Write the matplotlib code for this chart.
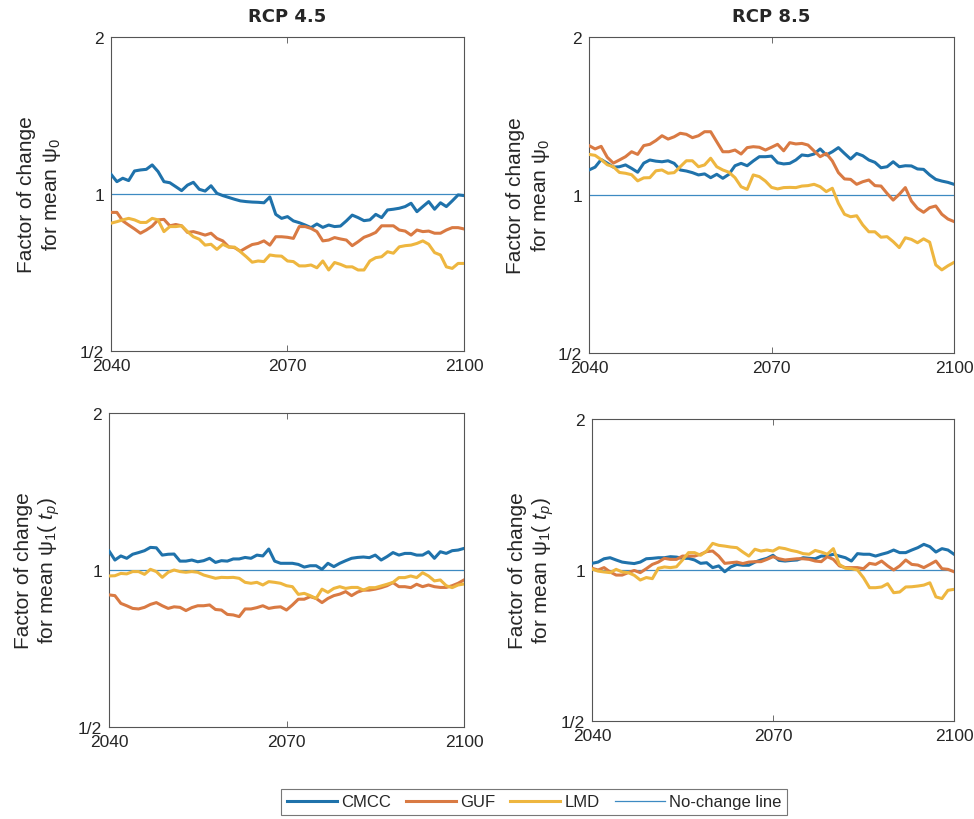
import matplotlib
matplotlib.use("Agg")
import matplotlib.pyplot as plt
from matplotlib.ticker import FixedLocator, FixedFormatter, NullLocator

plt.rcParams["font.family"] = ["Liberation Sans", "DejaVu Sans"]
plt.rcParams["mathtext.fontset"] = "custom"
plt.rcParams["mathtext.rm"] = "Liberation Sans"
plt.rcParams["mathtext.it"] = "Liberation Sans:italic"

years = list(range(2040, 2101))
models = ["CMCC", "GUF", "LMD"]
scenarios = ["RCP 4.5", "RCP 8.5"]
x_ticks = [2040, 2070, 2100]
y_ticks = [0.5, 1, 2]
y_tick_labels = ["1/2", "1", "2"]

# factor of change for mean psi_0
cmcc_45_psi0 = [1.091, 1.056, 1.072, 1.061, 1.107, 1.112, 1.115, 1.137, 1.104, 1.056,
                1.051, 1.033, 1.015, 1.040, 1.053, 1.021, 1.013, 1.037, 1.003, 0.993,
                0.985, 0.977, 0.970, 0.967, 0.965, 0.964, 0.962, 0.987, 0.914, 0.898,
                0.905, 0.888, 0.881, 0.872, 0.862, 0.876, 0.863, 0.872, 0.866, 0.868,
                0.888, 0.911, 0.901, 0.889, 0.892, 0.914, 0.901, 0.932, 0.935, 0.939,
                0.946, 0.960, 0.925, 0.946, 0.967, 0.935, 0.962, 0.946, 0.970, 0.996,
                0.993]
guf_45_psi0 = [0.922, 0.922, 0.888, 0.872, 0.857, 0.841, 0.853, 0.868, 0.892, 0.894,
               0.869, 0.874, 0.869, 0.844, 0.847, 0.841, 0.834, 0.841, 0.822, 0.813,
               0.792, 0.789, 0.777, 0.789, 0.800, 0.804, 0.813, 0.798, 0.828, 0.828,
               0.826, 0.822, 0.866, 0.866, 0.859, 0.847, 0.813, 0.816, 0.825, 0.820,
               0.816, 0.796, 0.810, 0.826, 0.834, 0.844, 0.869, 0.869, 0.869, 0.853,
               0.849, 0.834, 0.853, 0.847, 0.849, 0.841, 0.841, 0.853, 0.862, 0.862,
               0.857]
lmd_45_psi0 = [0.879, 0.885, 0.892, 0.898, 0.892, 0.882, 0.882, 0.898, 0.892, 0.847,
               0.866, 0.866, 0.869, 0.847, 0.828, 0.819, 0.798, 0.801, 0.783, 0.801,
               0.791, 0.791, 0.775, 0.758, 0.740, 0.744, 0.742, 0.764, 0.761, 0.760,
               0.744, 0.742, 0.728, 0.728, 0.731, 0.722, 0.744, 0.715, 0.739, 0.733,
               0.725, 0.725, 0.715, 0.715, 0.744, 0.755, 0.758, 0.775, 0.770, 0.792,
               0.796, 0.798, 0.804, 0.813, 0.801, 0.772, 0.764, 0.725, 0.720, 0.736,
               0.736]
cmcc_85_psi0 = [1.116, 1.130, 1.168, 1.150, 1.130, 1.132, 1.141, 1.124, 1.105, 1.150,
                1.166, 1.160, 1.157, 1.162, 1.149, 1.116, 1.111, 1.103, 1.092, 1.097,
                1.079, 1.095, 1.076, 1.095, 1.137, 1.149, 1.137, 1.161, 1.183, 1.183,
                1.186, 1.152, 1.146, 1.149, 1.166, 1.192, 1.188, 1.197, 1.224, 1.192,
                1.209, 1.231, 1.200, 1.171, 1.200, 1.188, 1.166, 1.154, 1.127, 1.132,
                1.157, 1.132, 1.137, 1.136, 1.121, 1.119, 1.092, 1.071, 1.063, 1.057,
                1.048]
guf_85_psi0 = [1.242, 1.224, 1.238, 1.180, 1.150, 1.166, 1.183, 1.209, 1.195, 1.242,
               1.249, 1.270, 1.297, 1.278, 1.291, 1.311, 1.305, 1.286, 1.297, 1.320,
               1.320, 1.263, 1.209, 1.209, 1.218, 1.197, 1.231, 1.236, 1.233, 1.218,
               1.233, 1.249, 1.214, 1.258, 1.251, 1.254, 1.245, 1.213, 1.183, 1.200,
               1.161, 1.103, 1.073, 1.071, 1.048, 1.060, 1.068, 1.042, 1.040, 1.007,
               0.978, 1.003, 1.033, 0.974, 0.943, 0.927, 0.946, 0.953, 0.919, 0.900,
               0.890]
lmd_85_psi0 = [1.195, 1.190, 1.168, 1.142, 1.132, 1.104, 1.100, 1.093, 1.064, 1.078,
               1.079, 1.112, 1.116, 1.100, 1.103, 1.132, 1.162, 1.162, 1.132, 1.141,
               1.175, 1.132, 1.116, 1.105, 1.079, 1.037, 1.025, 1.092, 1.084, 1.063,
               1.034, 1.027, 1.033, 1.034, 1.033, 1.040, 1.042, 1.048, 1.037, 1.015,
               1.030, 0.964, 0.919, 0.909, 0.913, 0.877, 0.851, 0.851, 0.831, 0.833,
               0.815, 0.794, 0.829, 0.823, 0.811, 0.825, 0.813, 0.736, 0.720, 0.733,
               0.744]

# factor of change for mean psi_1(t_p)
cmcc_45_psi1 = [1.088, 1.045, 1.064, 1.053, 1.072, 1.080, 1.089, 1.105, 1.103, 1.068,
                1.072, 1.073, 1.040, 1.040, 1.045, 1.037, 1.042, 1.053, 1.034, 1.042,
                1.040, 1.050, 1.050, 1.057, 1.053, 1.068, 1.064, 1.097, 1.040, 1.030,
                1.030, 1.030, 1.025, 1.013, 1.019, 1.019, 1.003, 1.030, 1.015, 1.030,
                1.042, 1.053, 1.057, 1.059, 1.056, 1.068, 1.045, 1.061, 1.080, 1.068,
                1.076, 1.076, 1.068, 1.068, 1.084, 1.053, 1.084, 1.076, 1.089, 1.092,
                1.100]
guf_45_psi1 = [0.896, 0.893, 0.863, 0.854, 0.844, 0.842, 0.848, 0.859, 0.866, 0.854,
               0.844, 0.850, 0.848, 0.836, 0.847, 0.854, 0.854, 0.857, 0.840, 0.838,
               0.822, 0.820, 0.814, 0.842, 0.842, 0.847, 0.854, 0.844, 0.848, 0.850,
               0.838, 0.857, 0.879, 0.879, 0.889, 0.882, 0.866, 0.882, 0.893, 0.899,
               0.909, 0.893, 0.907, 0.915, 0.915, 0.919, 0.925, 0.933, 0.946, 0.929,
               0.929, 0.925, 0.939, 0.929, 0.936, 0.929, 0.926, 0.926, 0.933, 0.943,
               0.957]
lmd_45_psi1 = [0.974, 0.975, 0.985, 0.983, 0.993, 0.993, 0.981, 1.003, 0.993, 0.968,
               0.990, 1.000, 0.993, 0.990, 0.993, 0.990, 0.978, 0.971, 0.964, 0.968,
               0.967, 0.968, 0.964, 0.947, 0.943, 0.947, 0.936, 0.950, 0.947, 0.943,
               0.933, 0.929, 0.898, 0.902, 0.893, 0.882, 0.919, 0.906, 0.922, 0.929,
               0.922, 0.926, 0.926, 0.915, 0.925, 0.925, 0.932, 0.939, 0.947, 0.967,
               0.967, 0.974, 0.967, 0.988, 0.974, 0.953, 0.957, 0.933, 0.925, 0.936,
               0.940]
cmcc_85_psi1 = [1.031, 1.037, 1.053, 1.058, 1.047, 1.037, 1.033, 1.030, 1.037, 1.053,
                1.055, 1.058, 1.058, 1.063, 1.061, 1.055, 1.055, 1.047, 1.031, 1.034,
                1.011, 1.019, 0.992, 1.014, 1.026, 1.022, 1.022, 1.037, 1.047, 1.055,
                1.070, 1.045, 1.042, 1.045, 1.047, 1.058, 1.055, 1.053, 1.066, 1.066,
                1.075, 1.066, 1.058, 1.042, 1.078, 1.075, 1.075, 1.066, 1.075, 1.083,
                1.096, 1.083, 1.083, 1.096, 1.108, 1.125, 1.113, 1.086, 1.103, 1.096,
                1.075]
guf_85_psi1 = [1.008, 1.000, 1.011, 0.991, 0.977, 0.977, 0.988, 0.998, 0.988, 1.006,
               1.026, 1.037, 1.055, 1.050, 1.050, 1.066, 1.066, 1.066, 1.075, 1.088,
               1.091, 1.066, 1.031, 1.034, 1.037, 1.030, 1.037, 1.039, 1.039, 1.050,
               1.063, 1.053, 1.047, 1.050, 1.053, 1.053, 1.050, 1.042, 1.039, 1.063,
               1.050, 1.019, 1.011, 1.011, 1.011, 1.006, 1.031, 1.026, 1.042, 1.019,
               1.000, 1.019, 1.047, 1.026, 1.023, 1.011, 1.026, 1.042, 1.006, 1.003,
               0.992]
lmd_85_psi1 = [1.004, 0.995, 0.991, 0.988, 1.003, 0.991, 0.988, 0.976, 0.955, 0.966,
               0.961, 1.008, 1.014, 1.011, 1.015, 1.047, 1.083, 1.083, 1.070, 1.091,
               1.130, 1.120, 1.116, 1.111, 1.108, 1.086, 1.066, 1.100, 1.091, 1.096,
               1.091, 1.108, 1.103, 1.094, 1.088, 1.078, 1.075, 1.094, 1.086, 1.075,
               1.103, 1.026, 1.008, 1.006, 1.000, 0.965, 0.922, 0.922, 0.925, 0.939,
               0.901, 0.904, 0.925, 0.926, 0.929, 0.933, 0.943, 0.884, 0.877, 0.911,
               0.915]

colors = ["#1f72ab", "#d97a43", "#eeb63f"]
nochange_color = "#3d8ac2"
axis_color = "#555555"
text_color = "#262626"

ylabels = ["Factor of change\nfor mean \u03c8$_0$",
           "Factor of change\nfor mean \u03c8$_1$( $t_p$)"]

# axes rectangles in pixels: left, top, right, bottom (figure is 974x820)
W, H = 974, 820
boxes = [
    (111, 38, 464, 352),
    (589, 38, 954, 354),
    (109, 414, 464, 728),
    (592, 420, 954, 722),
]
label_offsets = [71, 60, 71, 60]
panels = [
    (cmcc_45_psi0, guf_45_psi0, lmd_45_psi0),
    (cmcc_85_psi0, guf_85_psi0, lmd_85_psi0),
    (cmcc_45_psi1, guf_45_psi1, lmd_45_psi1),
    (cmcc_85_psi1, guf_85_psi1, lmd_85_psi1),
]

fig = plt.figure(figsize=(W / 100, H / 100), dpi=100)
axes = []
for i, ((l, t, r, b), series) in enumerate(zip(boxes, panels)):
    ax = fig.add_axes([l / W, 1 - b / H, (r - l) / W, (b - t) / H])
    for name, vals, c in zip(models, series, colors):
        ax.plot(years, vals, color=c, linewidth=2.2, label=name, zorder=3)
    ax.axhline(1, color=nochange_color, linewidth=0.9, label="No-change line", zorder=2)
    ax.set_yscale("log", base=2)
    ax.set_ylim(0.5, 2)
    ax.set_xlim(2040, 2100)
    ax.yaxis.set_major_locator(FixedLocator(y_ticks))
    ax.yaxis.set_major_formatter(FixedFormatter(y_tick_labels))
    ax.yaxis.set_minor_locator(NullLocator())
    ax.set_xticks(x_ticks)
    ax.set_xticklabels([str(x) for x in x_ticks])
    ax.tick_params(direction="in", length=4, width=0.6, colors=axis_color,
                   labelcolor=text_color, labelsize=12.5, top=True, right=True, pad=5)
    for s in ax.spines.values():
        s.set_color(axis_color)
        s.set_linewidth(0.8)
    # two-line y label, centred to the left of the tick labels
    cy = 1 - ((t + b) / 2) / H
    fig.text((l - label_offsets[i]) / W, cy, ylabels[i // 2], rotation=90,
             ha="center", va="center", fontsize=15, color=text_color,
             linespacing=1.25, multialignment="center")
    if i < 2:
        fig.text(((l + r) / 2) / W, 1 - 17 / H, scenarios[i], ha="center",
                 va="center", fontsize=13, fontweight="bold",
                 family="DejaVu Sans", color=text_color)
    axes.append(ax)

handles, labels = axes[0].get_legend_handles_labels()
leg = fig.legend(handles, labels, loc="center", bbox_to_anchor=(534 / W, 1 - 803 / H),
                 ncol=4, fontsize=12, frameon=True, fancybox=False,
                 handlelength=3.0, handletextpad=0.25, columnspacing=0.9,
                 borderpad=0.35, edgecolor=axis_color)
leg.get_frame().set_linewidth(0.8)
for txt in leg.get_texts():
    txt.set_color(text_color)

fig.savefig("out.png", dpi=100)
